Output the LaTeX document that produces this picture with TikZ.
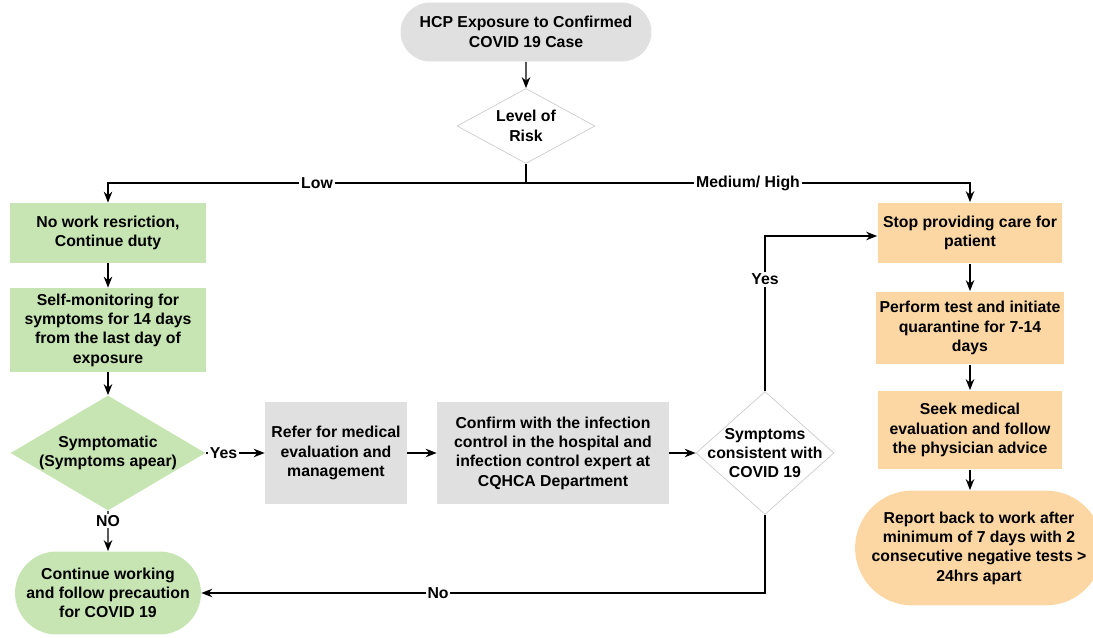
\documentclass[tikz,border=0pt]{standalone}
\usepackage{fontspec}
\setmainfont{Liberation Sans}
\usetikzlibrary{arrows.meta,positioning,shapes.geometric,shapes.misc}

\definecolor{boxgreen}{RGB}{198,229,178}
\definecolor{boxorange}{RGB}{252,215,163}
\definecolor{boxgrey}{RGB}{224,224,224}
\definecolor{diaedge}{RGB}{205,205,205}

\begin{document}
\begin{tikzpicture}[
    x=0.02cm, y=-0.02cm,
    every node/.style={font=\fontsize{9}{11}\selectfont\bfseries},
    greenbox/.style={rectangle, fill=boxgreen, minimum width=3.94cm, align=center, inner sep=2pt},
    orangebox/.style={rectangle, fill=boxorange, minimum width=3.7cm, align=center, inner sep=2pt},
    greybox/.style={rectangle, fill=boxgrey, minimum height=2.06cm, align=center, inner sep=2pt},
    stadium/.style={rounded rectangle, align=center, inner sep=2pt},
    decision/.style={diamond, draw=diaedge, fill=white, inner sep=0pt},
    lbl/.style={fill=white, inner sep=1pt},
    arrow/.style={-{Stealth[length=2.2mm, width=1.7mm]}, line width=0.8pt}
]
\useasboundingbox (0,0) rectangle (1093,638);

% Start
\node[stadium, fill=boxgrey, minimum width=5.16cm, minimum height=1.18cm] (expo) at (526,32) {HCP Exposure to Confirmed\\COVID 19 Case};
\node[decision, minimum width=2.76cm, minimum height=1.5cm] (risk) at (526,126) {};
\node at (risk) [align=center] {Level of\\Risk};
\coordinate (split) at (526,183);

% Low risk branch
\node[greenbox, minimum height=1.2cm] (nowork) at (108,233) {No work resriction,\\Continue duty};
\node[greenbox, minimum height=1.68cm] (selfmon) at (108,330) {Self-monitoring for\\symptoms for 14 days\\from the last day of\\exposure};
\node[decision, draw=none, fill=boxgreen, minimum width=3.9cm, minimum height=2.3cm] (sympt) at (108,453) {};
\node at (sympt) [align=center] {Symptomatic\\(Symptoms apear)};
\node[stadium, fill=boxgreen, minimum width=3.86cm, minimum height=1.66cm] (contin) at (108,593) {Continue working\\and follow precaution\\for COVID 19};

% Middle row
\node[greybox, minimum width=2.84cm] (refer) at (336,453) {Refer for medical\\evaluation and\\management};
\node[greybox, minimum width=4.64cm] (confirm) at (553,453) {Confirm with the infection\\control in the hospital and\\infection control expert at\\CQHCA Department};
\node[decision, minimum width=2.76cm, minimum height=2.46cm] (consist) at (765,453) {};
\node at (consist) [align=center] {Symptoms\\consistent with\\COVID 19};

% Medium/high risk branch
\node[orangebox, minimum height=1.22cm] (stop) at (970,233) {Stop providing care for\\patient};
\node[orangebox, minimum height=1.46cm] (test) at (970,328) {Perform test and initiate\\quarantine for 7-14\\days};
\node[orangebox, minimum height=1.58cm] (seek) at (970,430) {Seek medical\\evaluation and follow\\the physician advice};
\node[stadium, fill=boxorange, minimum width=4.54cm, minimum height=2.3cm] (report) at (979,548) {Report back to work after\\minimum of 7 days with 2\\consecutive negative tests >\\24hrs apart};

% Arrows
\draw[arrow] (expo) -- (risk);
\draw[line width=0.8pt] (risk) -- (split);
\draw[arrow] (split) -| node[lbl, pos=0.25] {Low} (nowork);
\draw[arrow] (split) -| node[lbl, pos=0.25] {Medium/ High} (stop);
\draw[arrow] (nowork) -- (selfmon);
\draw[arrow] (selfmon) -- (sympt);
\draw[arrow] (sympt) -- node[lbl, pos=0.3] {Yes} (refer);
\draw[arrow] (sympt) -- node[lbl, pos=0.25] {NO} (contin);
\draw[arrow] (refer) -- (confirm);
\draw[arrow] (confirm) -- (consist);
\draw[arrow] (consist.north) |- node[lbl, pos=0.36] {Yes} ([yshift=-0.06cm]stop.west);
\draw[arrow] (consist.south) |- node[lbl, pos=0.79] {No} (contin.east);
\draw[arrow] (stop) -- (test);
\draw[arrow] (test) -- (seek);
\draw[arrow] (seek) -- (seek |- report.north);

\end{tikzpicture}
\end{document}
